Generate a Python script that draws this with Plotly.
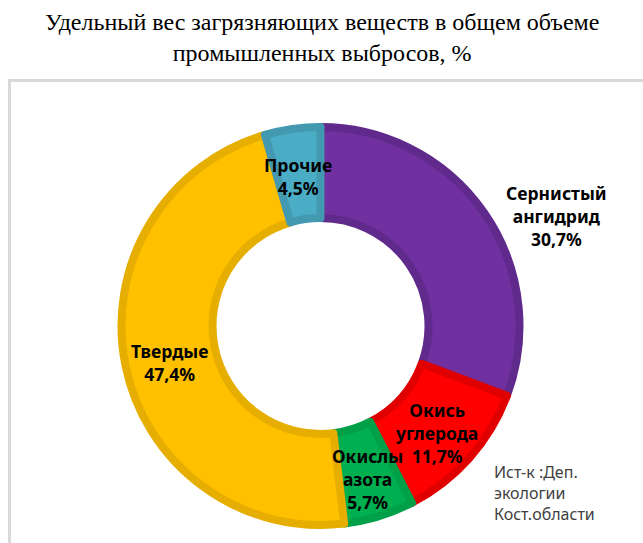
import plotly.graph_objects as go

# Share of pollutants in total industrial emissions, %
categories = ["Сернистый ангидрид", "Окись углерода", "Окислы азота", "Твердые", "Прочие"]
label_lines = ["Сернистый<br>ангидрид", "Окись<br>углерода", "Окислы<br>азота", "Твердые", "Прочие"]
shares = [30.7, 11.7, 5.7, 47.4, 4.5]
fill_colors = ["#7030A0", "#FF0000", "#00B050", "#FFC000", "#4BACC6"]
edge_colors = ["#602A8C", "#E00000", "#00A048", "#E6AE00", "#4299B0"]
# label anchor points in pixels (x, y from top)
label_pos = [(556, 216), (436, 433), (367, 479), (169, 362), (298, 177)]

W, H = 643, 543
CX, CY = 320.5, 326.0
R_OUT, R_IN = 203.0, 104.0
EDGE = 8

r_pie = R_OUT - EDGE / 2
hole = (R_IN + EDGE / 2) / r_pie

fig = go.Figure()
fig.add_trace(go.Pie(
    labels=categories,
    values=shares,
    sort=False,
    direction="clockwise",
    rotation=0,
    hole=hole,
    textinfo="none",
    hoverinfo="label+percent",
    showlegend=False,
    marker=dict(colors=fill_colors, line=dict(color=edge_colors, width=EDGE)),
    domain=dict(
        x=[(CX - r_pie) / W, (CX + r_pie) / W],
        y=[1 - (CY + r_pie) / H, 1 - (CY - r_pie) / H],
    ),
))

annotations = []
for text, val, (px, py) in zip(label_lines, shares, label_pos):
    annotations.append(dict(
        x=px / W, y=1 - py / H, xref="paper", yref="paper",
        xanchor="center", yanchor="middle", showarrow=False,
        text=f"{text}<br>{val:.1f}%".replace(".", ","),
        font=dict(family="Noto Sans", size=17.5, color="#000000", weight="bold"),
        align="center",
    ))

# source note
annotations.append(dict(
    x=492 / W, y=1 - 493 / H, xref="paper", yref="paper",
    xanchor="left", yanchor="middle", showarrow=False,
    text="Ист-к :Деп.<br>экологии<br>Кост.области",
    font=dict(family="Noto Sans", size=16, color="#404040"),
    align="left",
))

# title
annotations.append(dict(
    x=322 / W, y=1 - 37 / H, xref="paper", yref="paper",
    xanchor="center", yanchor="middle", showarrow=False,
    text="Удельный вес загрязняющих веществ в общем объеме<br>промышленных выбросов, %",
    font=dict(family="Liberation Serif", size=24, color="#000000"),
    align="center",
))

fig.update_layout(
    width=W, height=H,
    margin=dict(l=0, r=0, t=0, b=0),
    paper_bgcolor="white",
    plot_bgcolor="white",
    annotations=annotations,
    shapes=[dict(
        type="rect", xref="paper", yref="paper",
        x0=9.5 / W, x1=1.05, y0=-0.05, y1=1 - 80.5 / H,
        line=dict(color="#D9D9D9", width=3),
        fillcolor="rgba(0,0,0,0)", layer="below",
    )],
)

fig.write_html("out.html")
